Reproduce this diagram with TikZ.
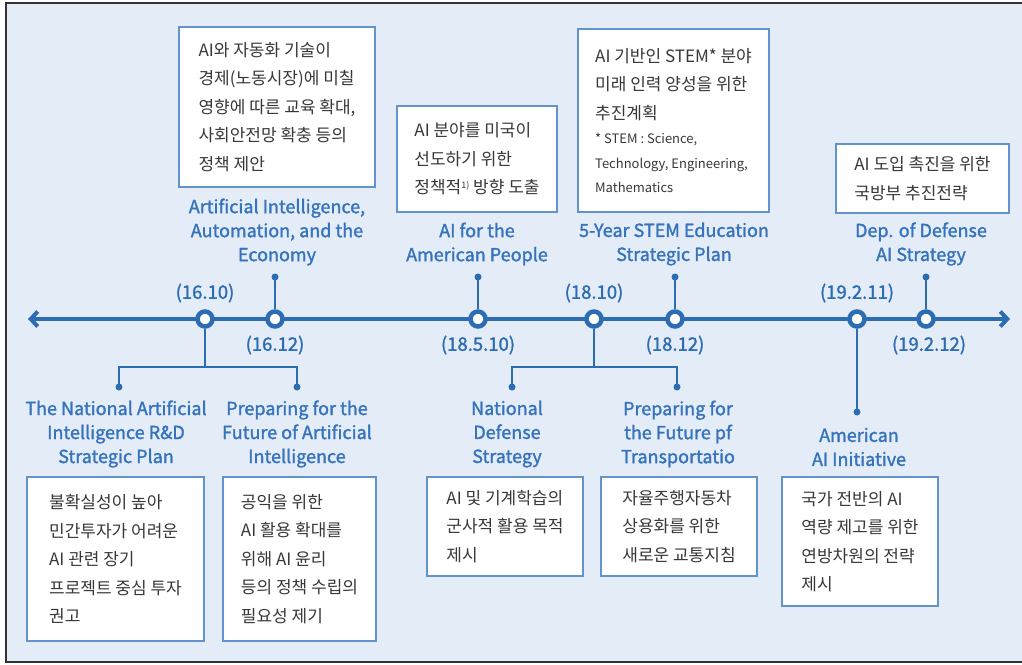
\documentclass[tikz,border=0pt]{standalone}
\usepackage{fontspec}
\usetikzlibrary{arrows.meta}
\newfontfamily\kr{Noto Sans CJK KR}
\newfontfamily\krb[FakeBold=1.5]{Noto Sans CJK KR}
\definecolor{bgblue}{HTML}{E4ECF8}
\definecolor{lineblue}{HTML}{2C6CB3}
\definecolor{boxblue}{HTML}{6293CD}
\definecolor{titleblue}{HTML}{3573BD}
\definecolor{txtgray}{HTML}{383838}
\newcommand{\supnote}[1]{\raisebox{5pt}{\fontsize{9}{9}\selectfont #1}}
\tikzset{
  event/.style={circle,draw=lineblue,line width=4.5pt,fill=white,minimum size=15pt,inner sep=0pt},
  datelbl/.style={text=lineblue,font=\krb\fontsize{18.5}{20}\selectfont},
  title/.style={text=titleblue,align=center,inner sep=0pt,font=\krb\fontsize{18}{24}\selectfont},
  infobox/.style={draw=boxblue,line width=1.3pt,fill=white,text=txtgray,align=left,inner sep=0pt,font=\kr\fontsize{17}{28.5}\selectfont},
  stem/.style={lineblue,line width=2.2pt}
}
\begin{document}
\begin{tikzpicture}[x=1pt,y=-1pt]
        % page and frame
        \useasboundingbox (0,0) rectangle (1022,664);
        \fill[white] (0,0) rectangle (1022,664);
        \fill[bgblue] (6,3) rectangle (1022,662);
        \draw[black!80,line width=2.5pt] (1022,3) -- (6,3) -- (6,662) -- (1022,662);
        % timeline
        \coordinate (tl) at (28,319);
        \coordinate (tr) at (1010,319);
        \draw[lineblue,line width=4pt,{Straight Barb[length=7pt,width=15pt]}-{Straight Barb[length=7pt,width=15pt]}] (tl) -- (tr);
        % events
        \node[event] (e1610) at (205,319) {};
        \node[event] (e1612) at (275,319) {};
        \node[event] (e18510) at (478,319) {};
        \node[event] (e1810) at (594,319) {};
        \node[event] (e1812) at (675,319) {};
        \node[event] (e19211) at (857,319) {};
        \node[event] (e19212) at (926,319) {};
        % dates
        \node[datelbl] (d1610) at (205,293) {(16.10)};
        \node[datelbl] (d1612) at (275,345) {(16.12)};
        \node[datelbl] (d18510) at (478,345) {(18.5.10)};
        \node[datelbl] (d1810) at (594,293) {(18.10)};
        \node[datelbl] (d1812) at (675,345) {(18.12)};
        \node[datelbl] (d19211) at (857,293) {(19.2.11)};
        \node[datelbl] (d19212) at (929,345) {(19.2.12)};
        % stems up
        \coordinate (u1612) at (275,277);
        \coordinate (u18510) at (478,277);
        \coordinate (u1812) at (675,277);
        \coordinate (u19212) at (926,277);
        \draw[stem] (e1612) -- (u1612);
        \draw[stem] (e18510) -- (u18510);
        \draw[stem] (e1812) -- (u1812);
        \draw[stem] (e19212) -- (u19212);
        % stems down
        \coordinate (k1610) at (205,367);
        \coordinate (s1) at (119,387);
        \coordinate (s2) at (297,387);
        \draw[stem] (e1610) -- (k1610);
        \draw[stem] (s1) |- (k1610) -| (s2);
        \coordinate (k1810) at (594,367);
        \coordinate (s3) at (512,387);
        \coordinate (s4) at (677,387);
        \draw[stem] (e1810) -- (k1810);
        \draw[stem] (s3) |- (k1810) -| (s4);
        \coordinate (s5) at (857,412);
        \draw[stem] (e19211) -- (s5);
        \foreach \p in {u1612,u18510,u1812,u19212,s1,s2,s3,s4,s5}
          \fill[lineblue] (\p) circle (3.5pt);
        % upper boxes
        \node[infobox,minimum width=196pt,minimum height=160pt] (b1) at (277,107)
          {AI와 자동화 기술이\\경제(노동시장)에 미칠\\영향에 따른 교육 확대,\\사회안전망 확충 등의\\정책 제안};
        \node[title] (t1) at (277,232) {Artificial Intelligence,\\Automation, and the\\Economy};
        \node[infobox,minimum width=160pt,minimum height=106pt] (b2) at (477,159)
          {AI 분야를 미국이\\선도하기 위한\\정책적\supnote{1)} 방향 도출};
        \node[title] (t2) at (477,244) {AI for the\\American People};
        \node[infobox,minimum width=191pt,minimum height=183pt] (b3) at (673.5,120.5)
          {AI 기반인 STEM* 분야\\미래 인력 양성을 위한\\추진계획\\[-4pt]
           {\fontsize{13}{25}\selectfont * STEM : Science,}\\[-4pt]
           {\fontsize{13}{25}\selectfont Technology, Engineering,}\\[-4pt]
           {\fontsize{13}{25}\selectfont Mathematics}};
        \node[title] (t3) at (674,244) {5-Year STEM Education\\Strategic Plan};
        \node[infobox,minimum width=173pt,minimum height=69pt] (b4) at (922.5,178.5)
          {AI 도입 촉진을 위한\\국방부 추진전략};
        \node[title] (t4) at (921,244) {Dep. of Defense\\AI Strategy};
        % lower boxes
        \node[title] (t5) at (116,434) {The National Artificial\\Intelligence R\&D\\Strategic Plan};
        \node[infobox,minimum width=177pt,minimum height=164pt] (b5) at (115.5,559)
          {불확실성이 높아\\민간투자가 어려운\\AI 관련 장기\\프로젝트 중심 투자\\권고};
        \node[title] (t6) at (297,434) {Preparing for the\\Future of Artificial\\Intelligence};
        \node[infobox,minimum width=153pt,minimum height=164pt] (b6) at (299.5,559)
          {공익을 위한\\AI 활용 확대를\\위해 AI 윤리\\등의 정책 수립의\\필요성 제기};
        \node[title] (t7) at (507,434) {National\\Defense\\Strategy};
        \node[infobox,minimum width=156pt,minimum height=99pt] (b7) at (505,526.5)
          {AI 및 기계학습의\\군사적 활용 목적\\제시};
        \node[title] (t8) at (678,434) {Preparing for\\the Future pf\\Transportatio};
        \node[infobox,minimum width=156pt,minimum height=99pt] (b8) at (679,526.5)
          {자율주행자동차\\상용화를 위한\\새로운 교통지침};
        \node[title] (t9) at (859,447) {American\\AI Initiative};
        \node[infobox,minimum width=156pt,minimum height=129pt] (b9) at (860,541.5)
          {국가 전반의 AI\\역량 제고를 위한\\연방차원의 전략\\제시};
    \end{tikzpicture}
\end{document}
